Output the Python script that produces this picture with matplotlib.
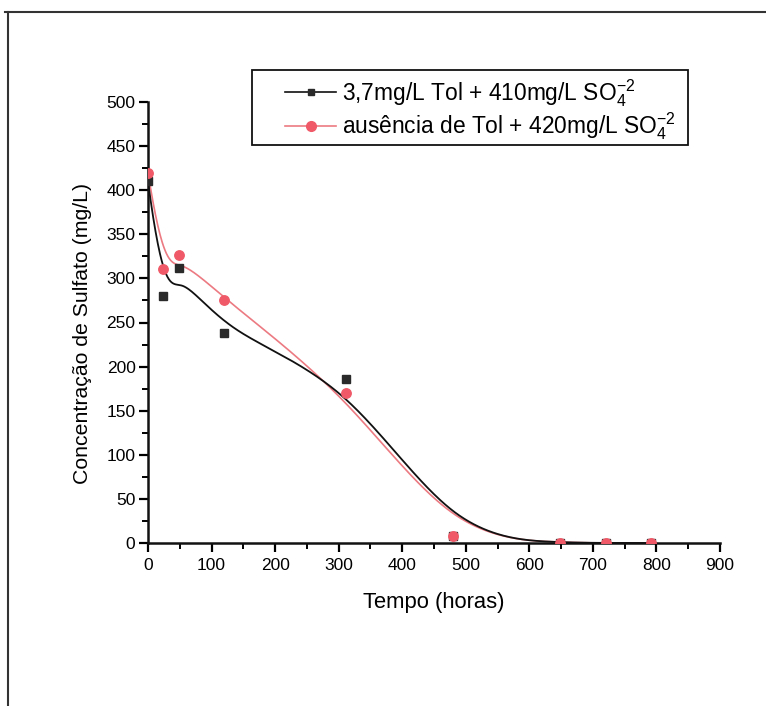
import numpy as np
import matplotlib
matplotlib.use('Agg')
from matplotlib import pyplot as plt
from matplotlib.lines import Line2D
from matplotlib.patches import Rectangle
from matplotlib.ticker import MultipleLocator

plt.rcParams['font.family'] = ['Liberation Sans', 'DejaVu Sans']
plt.rcParams['mathtext.fontset'] = 'custom'
plt.rcParams['mathtext.rm'] = 'Liberation Sans'

tempo = [0, 24, 48, 120, 312, 480, 648, 720, 792]
com_tol = [410, 280, 312, 238, 186, 8, 0, 0, 0]
sem_tol = [420, 311, 326, 276, 170, 8, 0, 0, 0]

lbl_com = '3,7mg/L Tol + 410mg/L SO$_4^{-2}$'
lbl_sem = 'ausência de Tol + 420mg/L SO$_4^{-2}$'

W, H = 766, 706


def bspline(xs, ys, n=400):
    # cubic B-spline com os pontos como controle (tipo Origin)
    P = np.column_stack([xs, ys]).astype(float)
    k = 3
    m = len(P)
    knots = np.concatenate([np.zeros(k), np.linspace(0, 1, m - k + 1), np.ones(k)])
    u = np.linspace(0, 1, n)
    u[-1] = 1 - 1e-9

    def N(i, p, t):
        if p == 0:
            return ((knots[i] <= t) & (t < knots[i + 1])).astype(float)
        a = 0.0
        d1 = knots[i + p] - knots[i]
        if d1 > 0:
            a = (t - knots[i]) / d1 * N(i, p - 1, t)
        b = 0.0
        d2 = knots[i + p + 1] - knots[i + 1]
        if d2 > 0:
            b = (knots[i + p + 1] - t) / d2 * N(i + 1, p - 1, t)
        return a + b

    B = np.array([N(i, k, u) for i in range(m)])
    C = B.T @ P
    return C[:, 0], C[:, 1]


fig = plt.figure(figsize=(W / 100, H / 100), dpi=100)
ax = fig.add_axes([148 / W, 1 - 543 / H, 572 / W, 441 / H])

cx, cy = bspline(tempo, com_tol)
ax.plot(cx, cy, color='#111111', lw=1.3, zorder=3)
ax.plot(tempo, com_tol, 's', color='#2a2a2a', ms=5.2, zorder=4)

rx, ry = bspline(tempo, sem_tol)
ax.plot(rx, ry, color='#ec7a82', lw=1.2, zorder=2)
ax.plot(tempo, sem_tol, 'o', color='#f05a68', ms=6.8, zorder=4)

ax.set_xlim(0, 900)
ax.set_ylim(0, 500)
ax.xaxis.set_major_locator(MultipleLocator(100))
ax.xaxis.set_minor_locator(MultipleLocator(50))
ax.yaxis.set_major_locator(MultipleLocator(50))
ax.yaxis.set_minor_locator(MultipleLocator(25))
ax.tick_params(which='major', direction='out', length=6.5, width=1.6, labelsize=12.5, pad=2.5)
ax.tick_params(axis='x', which='major', pad=4)
ax.tick_params(which='minor', direction='out', length=4, width=1.4)
for s in ['top', 'right']:
    ax.spines[s].set_visible(False)
for s in ['left', 'bottom']:
    ax.spines[s].set_linewidth(1.8)
    ax.spines[s].set_color('#111111')

ax.set_xlabel('Tempo (horas)', fontsize=15.8, labelpad=14)
ax.set_ylabel('Concentração de Sulfato (mg/L)', fontsize=15.3)
ax.yaxis.set_label_coords(-0.098, 0.475)

# legenda: caixa desenhada à parte, texto sem moldura
fig.add_artist(Rectangle((252 / W, 1 - 145 / H), 436 / W, 75 / H, transform=fig.transFigure,
                         fill=False, edgecolor='#111111', lw=1.3))
h1 = Line2D([], [], color='#111111', lw=1.2, marker='s', ms=5, mfc='#2a2a2a', mec='#2a2a2a')
h2 = Line2D([], [], color='#ec7a82', lw=1.2, marker='o', ms=7, mfc='#f05a68', mec='#f05a68')
leg = fig.legend([h1, h2], [lbl_com, lbl_sem], loc='upper left',
                 bbox_to_anchor=(285 / W, 1 - 77 / H), fontsize=16.4,
                 frameon=False, handlelength=2.25, handletextpad=0.25,
                 borderpad=0, labelspacing=0.08, borderaxespad=0)

# moldura da figura
fig.add_artist(Line2D([5 / W, 1], [1 - 12 / H, 1 - 12 / H], color='#333333', lw=1.5))
fig.add_artist(Line2D([8 / W, 8 / W], [0, 1 - 12 / H], color='#333333', lw=1.5))

fig.savefig('out.png', dpi=100)
